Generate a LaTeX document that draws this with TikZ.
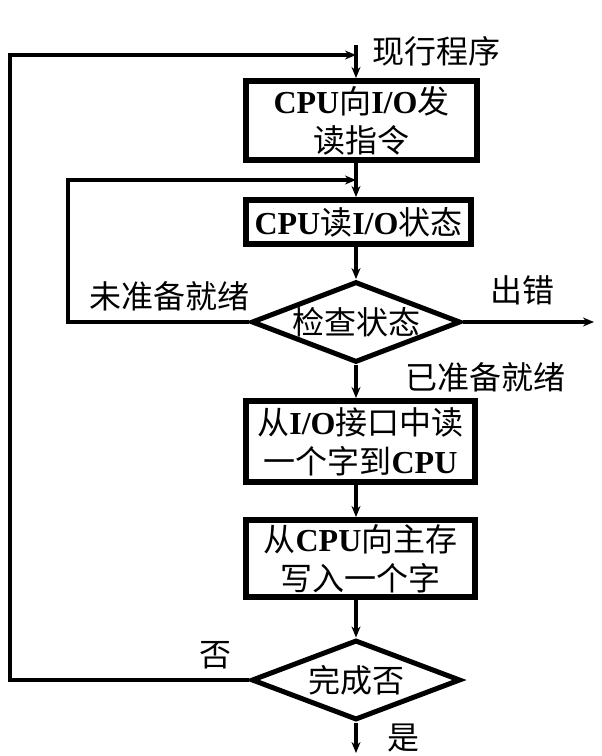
\documentclass[tikz,border=0pt]{standalone}
\usepackage{fontspec}
\setmainfont{Noto Sans CJK SC}
\newfontfamily\lat{Liberation Serif}
\usetikzlibrary{arrows.meta,shapes.geometric}
\newcommand{\en}[1]{{\lat\bfseries #1}}

\begin{document}
\begin{tikzpicture}[x=1pt,y=-1pt,
  box/.style={draw,line width=6pt,inner sep=0pt,align=center,font=\fontsize{32}{39}\selectfont},
  dec/.style={draw,diamond,line width=5pt,inner sep=0pt,aspect=2.5,minimum width=209pt,minimum height=80pt,font=\fontsize{32}{39}\selectfont},
  lab/.style={font=\fontsize{32}{38}\selectfont,inner sep=0pt},
  ln/.style={line width=4pt},
  arr/.style={ln,-{Stealth[length=11pt,width=9pt]}}]
 \useasboundingbox (0,0) rectangle (602,756);
 % steps
 \node[box,minimum width=231pt,minimum height=79pt] (rdcmd) at (361.5,120.5) {\en{CPU}向\en{I/O}发\\读指令};
 \node[box,minimum width=225pt,minimum height=44pt] (rdstat) at (358.5,222) {\en{CPU}读\en{I/O}状态};
 \node[dec] (chk) at (356,322) {检查状态};
 \node[box,minimum width=229pt,minimum height=81pt] (rdword) at (360.5,441.5) {从\en{I/O}接口中读\\一个字到\en{CPU}};
 \node[box,minimum width=229pt,minimum height=77pt] (wrword) at (360.5,558.5) {从\en{CPU}向主存\\写入一个字};
 \node[dec] (done) at (356,680) {完成否};
 % entry points on the axis
 \coordinate (top) at (356,45);
 \coordinate (j0) at (356,55);
 \coordinate (j1) at (356,180);
 \coordinate (errend) at (594,322);
 \coordinate (exit) at (356,753);
 % main flow
 \draw[arr] (top) -- (top |- rdcmd.north);
 \draw[arr] (top |- rdcmd.south) -- (top |- rdstat.north);
 \draw[arr] (top |- rdstat.south) -- (chk.north);
 \draw[arr] (chk.south) -- (top |- rdword.north);
 \draw[arr] (top |- rdword.south) -- (top |- wrword.north);
 \draw[arr] (top |- wrword.south) -- (done.north);
 \draw[arr] (done.south) -- (exit);
 % branches
 \draw[arr] (chk.west) -- (68,322) |- (j1);
 \draw[arr] (chk.east) -- (errend);
 \draw[arr] (done.west) -- (10,680) |- (j0);
 % labels
 \node[lab] (lcur) at (436,51) {现行程序};
 \node[lab] (lnot) at (169,296) {未准备就绪};
 \node[lab] (lerr) at (522,290) {出错};
 \node[lab] (lrdy) at (485,377) {已准备就绪};
 \node[lab] (lno) at (215,655) {否};
 \node[lab] (lyes) at (403,738) {是};
\end{tikzpicture}
\end{document}
